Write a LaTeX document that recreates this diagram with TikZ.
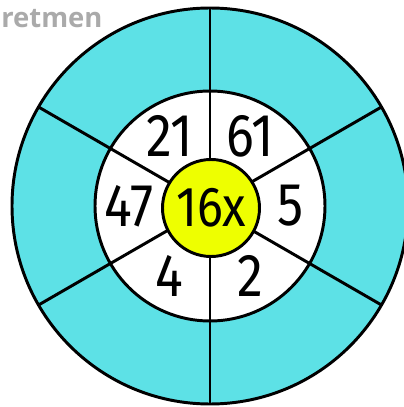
\documentclass[tikz,border=0pt]{standalone}
\usepackage{fontspec}
\setmainfont{Fira Sans}[Numbers=Proportional]
\newfontfamily\markfont{Open Sans}
\definecolor{wheelcyan}{RGB}{93,225,230}
\definecolor{wheelyellow}{RGB}{238,255,0}
\definecolor{markgray}{RGB}{170,170,170}
\newcommand\narrow[1]{\scalebox{0.86}[1]{#1}}
\tikzset{
  ring/.style={draw=black, line width=2.1pt},
  spoke/.style={draw=black, line width=2.1pt},
  hub/.style={circle, draw=black, line width=2.1pt, fill=wheelyellow,
              minimum size=97*0.025cm, inner sep=0pt, font=\fontsize{40}{40}\selectfont},
  numlabel/.style={font=\fontsize{43}{43}\selectfont, inner sep=0pt},
  marklabel/.style={font=\markfont\bfseries\fontsize{19.5}{19.5}\selectfont, text=markgray, inner sep=0pt},
}
\begin{document}
\begin{tikzpicture}[x=0.025cm, y=0.025cm]
\useasboundingbox (-210,-201) rectangle (193,206);
% outer and inner rings
\filldraw[ring, fill=wheelcyan] (0,0) circle (198);
\filldraw[ring, fill=white] (0,0) circle (115);
\foreach \ang in {30,90,...,330}
  \draw[spoke] (\ang:40) -- (\ang:198);
\node[hub] (hub) at (1,-2) {\narrow{16x}};
% numbers
\foreach \ang/\val in {0/5, 60/61, 120/21, 180/47, 240/4, 300/2}
  \node[numlabel] (num\val) at (\ang:81) {\narrow{\val}};
\node[marklabel, anchor=base west] (mark) at (-209,178) {retmen};
\end{tikzpicture}
\end{document}
